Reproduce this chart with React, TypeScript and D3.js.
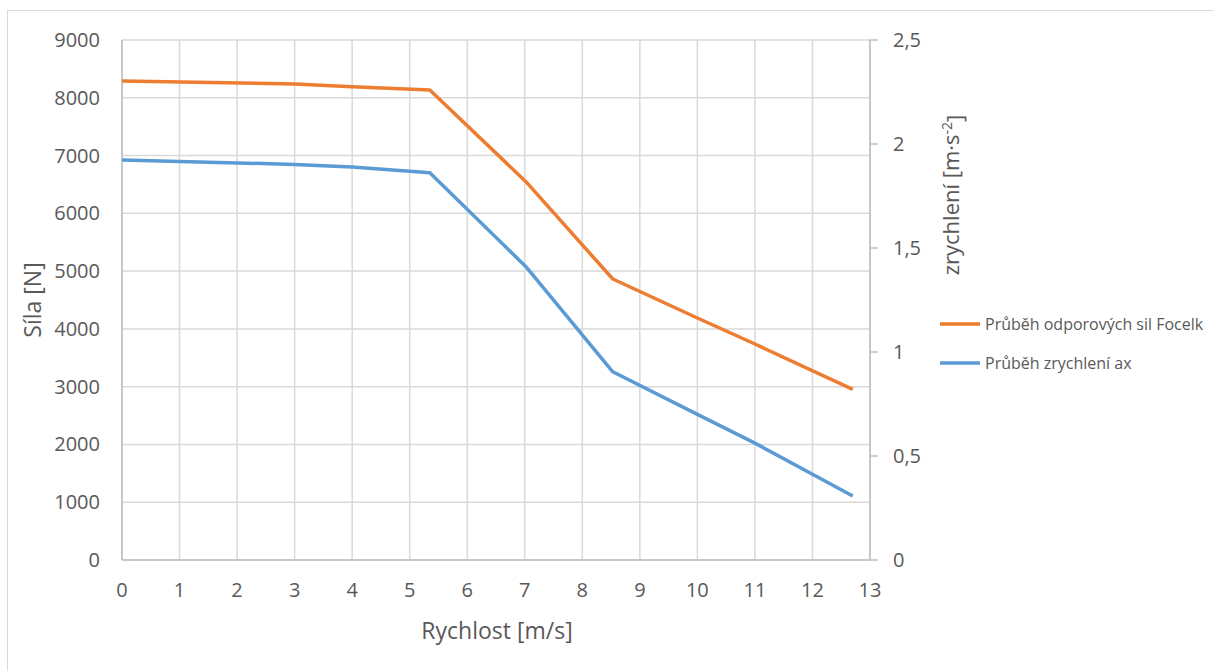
import React from "react";
import * as d3 from "d3";

const speeds = [0, 3, 4, 5.35, 7.02, 8.53, 10, 11, 12.7];
const forceValues = [8290, 8240, 8190, 8134, 6548, 4863, 4188, 3738, 2954];
const accelValues = [1.923, 1.902, 1.889, 1.862, 1.41, 0.905, 0.7, 0.562, 0.308];
const xTicks = [0, 1, 2, 3, 4, 5, 6, 7, 8, 9, 10, 11, 12, 13];
const leftTicks = [0, 1000, 2000, 3000, 4000, 5000, 6000, 7000, 8000, 9000];
const rightTicks = [0, 0.5, 1, 1.5, 2, 2.5];
const seriesNames = ["Průběh odporových sil Focelk", "Průběh zrychlení ax"];
const colors = ["#ED7D31", "#5B9BD5"];

const FONT = "'Open Sans', sans-serif";
const TXT = "#595959";

export default function App() {
  const x = d3.scaleLinear().domain([0, 13]).range([122, 870]);
  const yL = d3.scaleLinear().domain([0, 9000]).range([560, 40]);
  const yR = d3.scaleLinear().domain([0, 2.5]).range([560, 40]);
  const lineF = d3
    .line<number>()
    .x((_, i) => x(speeds[i]))
    .y((d) => yL(d));
  const lineA = d3
    .line<number>()
    .x((_, i) => x(speeds[i]))
    .y((d) => yR(d));

  return (
    <svg
      width={1213}
      height={671}
      style={{ position: "absolute", left: 0, top: 0, background: "#fff" }}
      fontFamily={FONT}
    >
      <rect x={7.5} y={10.5} width={1230} height={700} fill="#fff" stroke="#d9d9d9" />
      {leftTicks.map((t) => (
        <line key={"h" + t} x1={x(0)} x2={x(13)} y1={yL(t)} y2={yL(t)} stroke="#d9d9d9" strokeWidth={1.5} />
      ))}
      {xTicks.map((t) => (
        <line key={"v" + t} x1={x(t)} x2={x(t)} y1={yL(0)} y2={yL(9000)} stroke="#d9d9d9" strokeWidth={1.5} />
      ))}
      <line x1={x(0)} x2={x(0)} y1={yL(0)} y2={yL(9000)} stroke="#bfbfbf" strokeWidth={1.5} />
      <line x1={x(0)} x2={x(13)} y1={yL(0)} y2={yL(0)} stroke="#bfbfbf" strokeWidth={1.5} />
      <line x1={x(13)} x2={x(13)} y1={yR(0)} y2={yR(2.5)} stroke="#bfbfbf" strokeWidth={1.5} />
      {rightTicks.map((t) => (
        <line key={"rt" + t} x1={x(13)} x2={x(13) + 8} y1={yR(t)} y2={yR(t)} stroke="#bfbfbf" strokeWidth={1.5} />
      ))}
      {leftTicks.map((t) => (
        <text key={"lt" + t} x={100} y={yL(t)} dy="0.35em" textAnchor="end" fontSize={20} fill={TXT}>
          {t}
        </text>
      ))}
      {rightTicks.map((t) => (
        <text key={"rl" + t} x={893} y={yR(t)} dy="0.35em" textAnchor="start" fontSize={20} fill={TXT}>
          {String(t).replace(".", ",")}
        </text>
      ))}
      {xTicks.map((t) => (
        <text key={"xl" + t} x={x(t)} y={590} dy="0.35em" textAnchor="middle" fontSize={20} fill={TXT}>
          {t}
        </text>
      ))}
      <path d={lineF(forceValues) || ""} fill="none" stroke={colors[0]} strokeWidth={3.5} strokeLinejoin="round" />
      <path d={lineA(accelValues) || ""} fill="none" stroke={colors[1]} strokeWidth={3.5} strokeLinejoin="round" />
      <text x={497} y={631} dy="0.35em" textAnchor="middle" fontSize={23} fill={TXT}>
        Rychlost [m/s]
      </text>
      <text transform="translate(33,300) rotate(-90)" dy="0.35em" textAnchor="middle" fontSize={23} fill={TXT}>
        Síla [N]
      </text>
      <text transform="translate(951,195) rotate(-90)" dy="0.35em" textAnchor="middle" fontSize={22} fill={TXT}>
        zrychlení [m·s
        <tspan dy="-0.5em" fontSize={14}>-2</tspan>
        <tspan dy="0.5em">]</tspan>
      </text>
      {seriesNames.map((n, i) => (
        <g key={n} transform={`translate(0,${324 + i * 39})`}>
          <line x1={940} x2={980} y1={0} y2={0} stroke={colors[i]} strokeWidth={3.5} />
          <text x={985} y={0} dy="0.35em" fontSize={16} fill={TXT}>
            {n}
          </text>
        </g>
      ))}
    </svg>
  );
}
